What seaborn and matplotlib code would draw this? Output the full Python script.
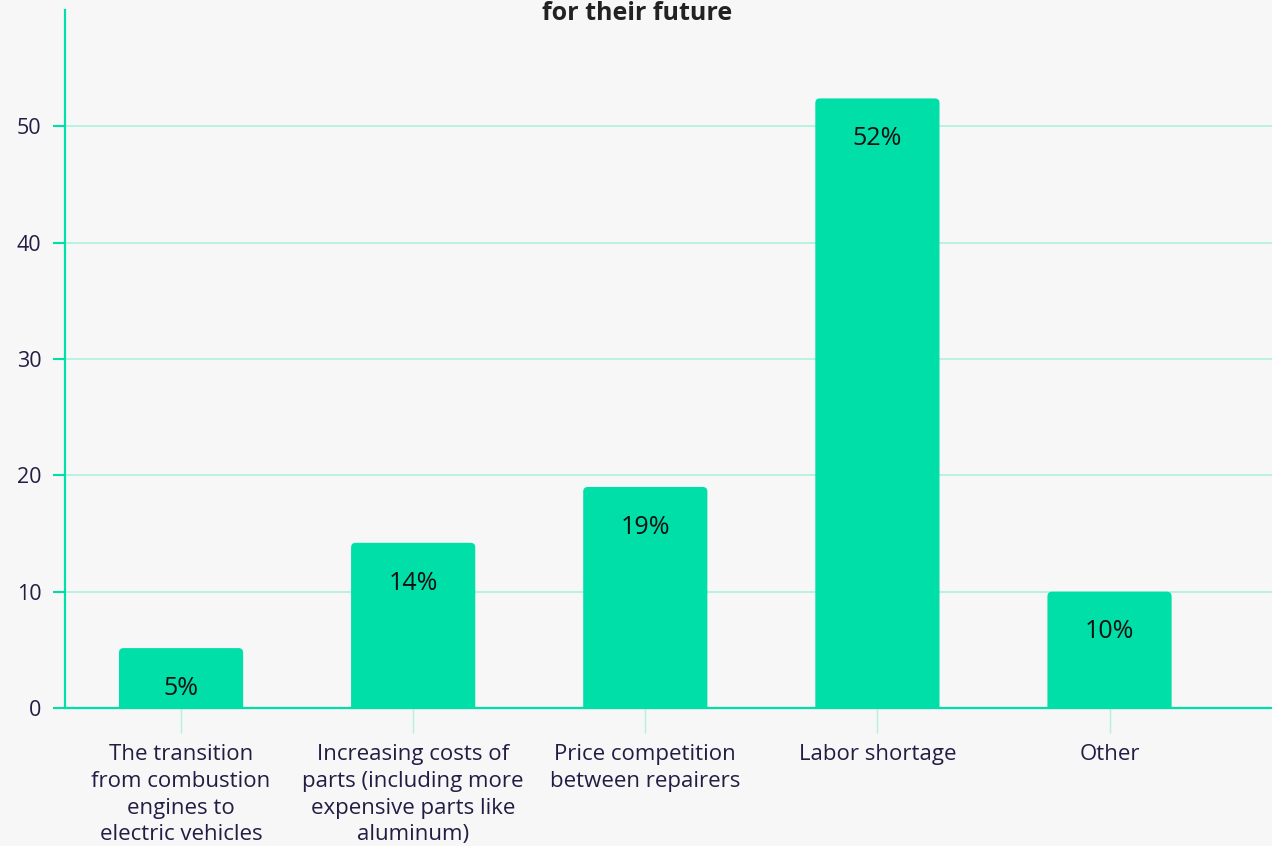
import matplotlib
matplotlib.use("Agg")
import matplotlib.pyplot as plt
import seaborn as sns
import pandas as pd
from matplotlib.patches import FancyBboxPatch

# data
categories = [
    "The transition\nfrom combustion\nengines to\nelectric vehicles",
    "Increasing costs of\nparts (including more\nexpensive parts like\naluminum)",
    "Price competition\nbetween repairers",
    "Labor shortage",
    "Other",
]
values = [5.15, 14.2, 19.0, 52.4, 10.0]
labels = ["5%", "14%", "19%", "52%", "10%"]

green = "#00dfa8"
grid_c = "#b4f1e1"
navy = "#231d44"
bg = "#f7f7f7"

sns.set_theme(style="white")
plt.rcParams["font.family"] = ["Open Sans", "DejaVu Sans"]

df = pd.DataFrame({"cat": categories, "val": values})

fig = plt.figure(figsize=(12.72, 8.46), dpi=100, facecolor=bg)
ax = fig.add_axes([65 / 1272, (846 - 708) / 846, (1272 - 65) / 1272, 698 / 846])
ax.set_facecolor(bg)

sns.barplot(data=df, x="cat", y="val", color=green, width=0.535, ax=ax, saturation=1)

# swap plain bars for ones with rounded top corners
for p in list(ax.patches):
    x0, w, h = p.get_x(), p.get_width(), p.get_height()
    p.remove()
    ax.add_patch(FancyBboxPatch((x0, -1), w, h + 1,
                                boxstyle="round,pad=0,rounding_size=0.02",
                                mutation_aspect=20, fc=green, ec="none",
                                zorder=3, clip_on=True))

for i, (v, lab) in enumerate(zip(values, labels)):
    ax.annotate(lab, (i, v), xytext=(0, -29), textcoords="offset points",
                ha="center", va="center", fontsize=18, fontweight=500,
                color="#111111", zorder=4)

ax.set_ylim(0, 60)
ax.set_xlim(-0.5, 4.7)
ax.set_yticks([0, 10, 20, 30, 40, 50])
ax.yaxis.grid(True, color=grid_c, lw=1.3)
ax.set_axisbelow(True)
ax.set_xlabel("")
ax.set_ylabel("")

for s in ["top", "right"]:
    ax.spines[s].set_visible(False)
for s in ["left", "bottom"]:
    ax.spines[s].set_color(green)
    ax.spines[s].set_linewidth(1.6)

ax.tick_params(axis="y", length=9, width=1.5, color=green, labelsize=15.5,
               labelcolor=navy, pad=8, left=True)
ax.tick_params(axis="x", length=18, width=1, color=grid_c, labelsize=16,
               labelcolor=navy, pad=8, bottom=True)
for t in ax.get_xticklabels():
    t.set_linespacing(1.36)

fig.text(637 / 1272, 0.999, "for their future", ha="center", va="top",
         fontsize=18, fontweight="bold", color="#222222")

fig.savefig("out.png", dpi=100, facecolor=bg)
